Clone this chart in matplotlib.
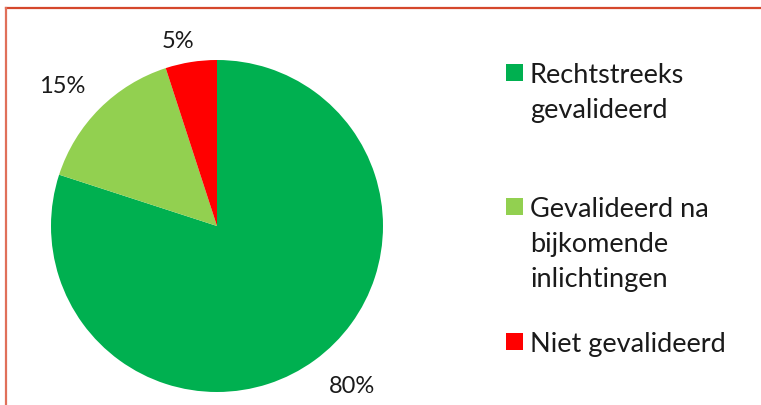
import matplotlib
matplotlib.use("Agg")
import numpy as np
import matplotlib.pyplot as plt
from matplotlib.patches import Rectangle
from matplotlib.lines import Line2D

categories = ["Rechtstreeks\ngevalideerd", "Gevalideerd na\nbijkomende\ninlichtingen", "Niet gevalideerd"]
values = [80, 15, 5]
pct_labels = ["80%", "15%", "5%"]
colors = ["#00B050", "#92D050", "#FF0000"]

plt.rcParams['font.family'] = ['Lato', 'DejaVu Sans']

W, H = 761, 406
fig = plt.figure(figsize=(W / 100, H / 100), dpi=100)
fig.patch.set_facecolor("white")

# frame border (top and left visible)
fig.add_artist(Line2D([6 / W, 1.0], [1 - 9 / H, 1 - 9 / H], color="#D5482C", lw=1.6, transform=fig.transFigure))
fig.add_artist(Line2D([6 / W, 6 / W], [0, 1 - 9 / H], color="#E0705A", lw=1.6, transform=fig.transFigure))

# pie axes covering the pie bounding box
cx, cy, r = 217, 227, 166
ax = fig.add_axes([(cx - r) / W, (H - cy - r) / H, 2 * r / W, 2 * r / H])
wedges, texts = ax.pie(values, labels=pct_labels, colors=colors, startangle=90,
                       counterclock=False, labeldistance=1.26,
                       wedgeprops=dict(linewidth=0),
                       textprops=dict(fontsize=17, color="#1a1a1a"))
label_dist = [1.26, 1.26, 1.14]
label_shift = [4.3, 2.7, 3.0]
for w, t, d, s in zip(wedges, texts, label_dist, label_shift):
    ang = np.deg2rad((w.theta1 + w.theta2) / 2 + s)
    t.set_position((d * np.cos(ang), d * np.sin(ang)))
    t.set_ha("center")
    t.set_va("center")
    t.set_clip_on(False)
ax.set_xlim(-1, 1)
ax.set_ylim(-1, 1)
ax.set_aspect("auto")
ax.axis("off")

# manual legend
entry_tops = [73, 207, 342]
line_h = 35
for lab, col, y in zip(categories, colors, entry_tops):
    fig.add_artist(Rectangle((506 / W, 1 - (y + 8.5) / H), 17 / W, 17 / H,
                             facecolor=col, edgecolor="none", transform=fig.transFigure))
    for i, line in enumerate(lab.split("\n")):
        fig.text(530 / W, 1 - (y + i * line_h) / H, line, fontsize=19.5,
                 color="#1a1a1a", va="center_baseline", ha="left")

fig.savefig("out.png", dpi=100)
